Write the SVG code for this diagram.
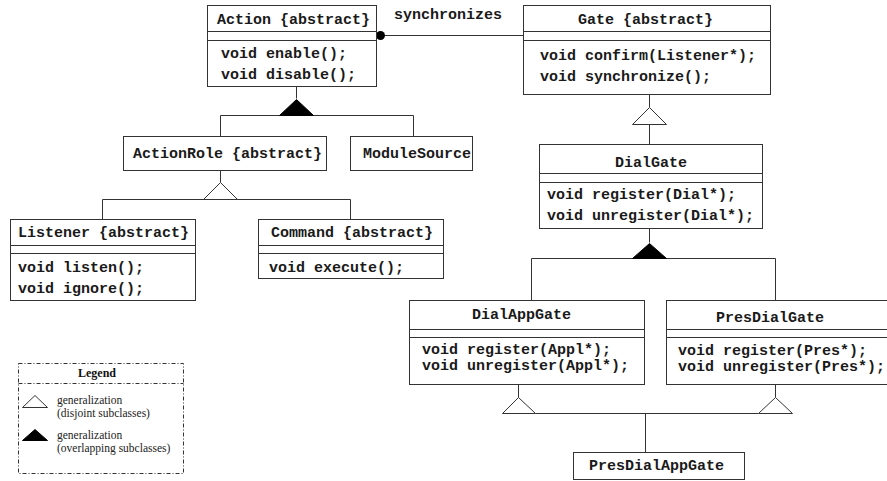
<svg xmlns="http://www.w3.org/2000/svg" width="887" height="481" viewBox="0 0 887 481">
<style>
.box{fill:#fff;stroke:#333;stroke-width:1}
.ln{fill:none;stroke:#333;stroke-width:1}
.hol{fill:#fff;stroke:#333;stroke-width:1}
.fil{fill:#000;stroke:#000;stroke-width:1}
.t{font-family:"Liberation Mono","Courier New",monospace;font-weight:bold;font-size:15px;fill:#1a1a1a}
.lg{font-family:"Liberation Serif","Times New Roman",serif;font-size:11.5px;fill:#222}
.lgb{font-family:"Liberation Serif","Times New Roman",serif;font-size:12px;font-weight:bold;fill:#111}
.leg{fill:#fff;stroke:#333;stroke-width:1;stroke-dasharray:4,2,1,2}
</style>
<rect width="887" height="481" fill="#fff"/>
<g id="connectors" transform="translate(0.5,0.5)">
  <line class="ln" x1="380" y1="35" x2="523" y2="35"/>
  <circle cx="380" cy="35" r="4.5" fill="#000"/>
  <polyline class="ln" points="296,86 296,98"/>
  <polyline class="ln" points="220,136 220,115 413,115 413,136"/>
  <polygon class="fil" points="296,99 279,115 313,115"/>
  <polyline class="ln" points="220,170 220,182"/>
  <polyline class="ln" points="102,219 102,199 350,199 350,219"/>
  <polygon class="hol" points="220,182 203,199 237,199"/>
  <polyline class="ln" points="649,94 649,107"/>
  <polyline class="ln" points="649,124 649,144"/>
  <polygon class="hol" points="649,107 632,124 666,124"/>
  <polyline class="ln" points="649,228 649,242"/>
  <polyline class="ln" points="531,300 531,258 775,258 775,300"/>
  <polygon class="fil" points="649,243 632,258 666,258"/>
  <polyline class="ln" points="518,384 518,397"/>
  <polyline class="ln" points="775,384 775,397"/>
  <polyline class="ln" points="535,413 758,413"/>
  <polyline class="ln" points="645,413 645,452"/>
  <polygon class="hol" points="518,397 502,413 535,413"/>
  <polygon class="hol" points="775,397 758,413 792,413"/>
</g>
<text class="t" x="394" y="19">synchronizes</text>
<g id="Action">
  <g transform="translate(0.5,0.5)">
  <rect class="box" x="207" y="5" width="169" height="81"/>
  <line class="ln" x1="207" y1="31" x2="376" y2="31"/>
  <line class="ln" x1="207" y1="40" x2="376" y2="40"/>
  </g>
  <text class="t" x="217" y="24">Action {abstract}</text>
  <text class="t" x="221" y="58">void enable();</text>
  <text class="t" x="221" y="79">void disable();</text>
</g>
<g id="Gate">
  <g transform="translate(0.5,0.5)">
  <rect class="box" x="523" y="5" width="247" height="89"/>
  <line class="ln" x1="523" y1="31" x2="770" y2="31"/>
  <line class="ln" x1="523" y1="40" x2="770" y2="40"/>
  </g>
  <text class="t" x="578" y="24">Gate {abstract}</text>
  <text class="t" x="540" y="60">void confirm(Listener*);</text>
  <text class="t" x="540" y="81">void synchronize();</text>
</g>
<g id="ActionRole">
  <rect class="box" x="123.5" y="136.5" width="203" height="34"/>
  <text class="t" x="133" y="158">ActionRole {abstract}</text>
</g>
<g id="ModuleSource">
  <rect class="box" x="350.5" y="136.5" width="122" height="34"/>
  <text class="t" x="363" y="158">ModuleSource</text>
</g>
<g id="Listener">
  <g transform="translate(0.5,0.5)">
  <rect class="box" x="10" y="219" width="185" height="81"/>
  <line class="ln" x1="10" y1="245" x2="195" y2="245"/>
  <line class="ln" x1="10" y1="253" x2="195" y2="253"/>
  </g>
  <text class="t" x="18" y="237">Listener {abstract}</text>
  <text class="t" x="18" y="272">void listen();</text>
  <text class="t" x="18" y="293">void ignore();</text>
</g>
<g id="Command">
  <g transform="translate(0.5,0.5)">
  <rect class="box" x="258" y="219" width="185" height="59"/>
  <line class="ln" x1="258" y1="245" x2="443" y2="245"/>
  <line class="ln" x1="258" y1="253" x2="443" y2="253"/>
  </g>
  <text class="t" x="271" y="237">Command {abstract}</text>
  <text class="t" x="269" y="272">void execute();</text>
</g>
<g id="DialGate">
  <g transform="translate(0.5,0.5)">
  <rect class="box" x="539" y="144" width="223" height="84"/>
  <line class="ln" x1="539" y1="173" x2="762" y2="173"/>
  <line class="ln" x1="539" y1="182" x2="762" y2="182"/>
  </g>
  <text class="t" x="615" y="167">DialGate</text>
  <text class="t" x="547" y="199">void register(Dial*);</text>
  <text class="t" x="547" y="220">void unregister(Dial*);</text>
</g>
<g id="DialAppGate">
  <g transform="translate(0.5,0.5)">
  <rect class="box" x="409" y="300" width="235" height="84"/>
  <line class="ln" x1="409" y1="329" x2="644" y2="329"/>
  <line class="ln" x1="409" y1="337" x2="644" y2="337"/>
  </g>
  <text class="t" x="472" y="319">DialAppGate</text>
  <text class="t" x="422" y="354">void register(Appl*);</text>
  <text class="t" x="422" y="370">void unregister(Appl*);</text>
</g>
<g id="PresDialGate">
  <g transform="translate(0.5,0.5)">
  <rect class="box" x="666" y="300" width="224" height="84"/>
  <line class="ln" x1="666" y1="329" x2="890" y2="329"/>
  <line class="ln" x1="666" y1="337" x2="890" y2="337"/>
  </g>
  <text class="t" x="716" y="322">PresDialGate</text>
  <text class="t" x="678" y="355">void register(Pres*);</text>
  <text class="t" x="678" y="371">void unregister(Pres*);</text>
</g>
<g id="PresDialAppGate">
  <rect class="box" x="573.5" y="452.5" width="171" height="27"/>
  <text class="t" x="589" y="470">PresDialAppGate</text>
</g>
<g id="Legend">
  <g transform="translate(0.5,0.5)">
  <rect class="leg" x="18" y="363" width="165" height="110"/>
  <line class="leg" x1="18" y1="383" x2="183" y2="383"/>
  <polygon class="hol" points="34.5,395 22,407 47,407"/>
  <polygon class="fil" points="34.5,429 22,440 47,440"/>
  </g>
  <text class="lgb" x="97" y="377" text-anchor="middle">Legend</text>
  <text class="lg" x="57" y="404">generalization</text>
  <text class="lg" x="57" y="417">(disjoint subclasses)</text>
  <text class="lg" x="57" y="439">generalization</text>
  <text class="lg" x="57" y="452">(overlapping subclasses)</text>
</g>
</svg>
